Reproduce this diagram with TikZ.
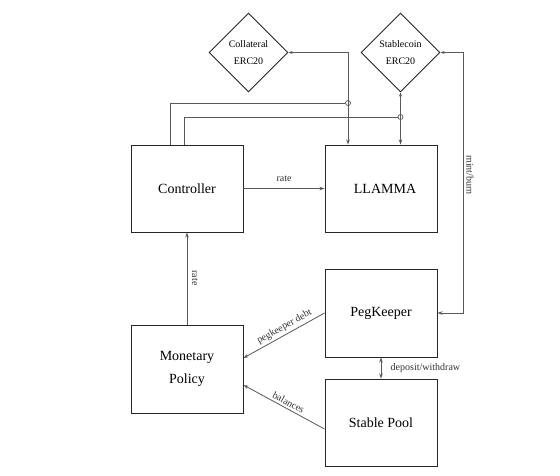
\documentclass[tikz,border=0pt]{standalone}
\usepackage{fontspec}
\setmainfont{Liberation Serif}
\usetikzlibrary{shapes.geometric,arrows.meta,calc}
\begin{document}
\begin{tikzpicture}[x=1pt,y=-1pt,
  box/.style={draw=black!85,line width=0.95pt,minimum width=112pt,minimum height=87pt,inner sep=0pt,font=\fontsize{14}{23}\selectfont,align=center},
  dia/.style={draw=black!85,line width=0.95pt,shape=diamond,minimum width=79pt,minimum height=79pt,inner sep=0pt,font=\fontsize{10}{17}\selectfont,align=center},
  conn/.style={draw=black!65,line width=0.8pt},
  tip/.style={-{Stealth[length=5pt,width=3.5pt]}},
  lbl/.style={font=\fontsize{10}{12}\selectfont,text=black!80},
  jn/.style={circle,draw=black!65,line width=0.7pt,inner sep=0pt,minimum size=5pt}
]
\useasboundingbox[fill=white] (0,0) rectangle (560,475);
% nodes
\node[box] (controller) at (187,188.5) {Controller};
\node[box] (llamma) at (381,188.5) {\hspace*{8pt}LLAMMA};
\node[box,minimum height=88pt] (monetary) at (187,369) {Monetary\\Policy};
\node[box,minimum height=88pt] (pegkeeper) at (381,313) {PegKeeper};
\node[box] (pool) at (381,422.5) {Stable Pool};
\node[dia] (coll) at (248.5,52.5) {Collateral\\ERC20};
\node[dia] (stable) at (400.5,52.5) {Stablecoin\\ERC20};
\node[jn] (j1) at (348,103) {};
\node[jn] (j2) at (400.5,117) {};
\coordinate (cj) at (348,52.5);
\coordinate (mb) at (463,52.5);
% connectors
\draw[conn,tip] (controller.east) -- node[lbl,above=3pt] {rate} (llamma.west);
\draw[conn,tip] (monetary.north) -- (controller.south);
\node[lbl,rotate=-90] (ratelbl) at (195,278) {rate};
\draw[conn,{Stealth[length=5pt,width=3.5pt]}-] ([yshift=11pt]monetary.east) -- node[lbl,sloped,above=-1pt,pos=0.55] {pegkeeper debt} (pegkeeper.west);
\draw[conn,{Stealth[length=5pt,width=3.5pt]}-] ([yshift=-16pt]monetary.east) -- node[lbl,sloped,above=-1pt,pos=0.52] {balances} ([yshift=-6.5pt]pool.west);
\draw[conn,{Stealth[length=5pt,width=3.5pt]}-{Stealth[length=5pt,width=3.5pt]}] (pegkeeper.south) -- node[lbl,right=6pt] {deposit/withdraw} (pool.north);
\draw[conn,{Stealth[length=4pt,width=3pt]}-{Stealth[length=5pt,width=3.5pt]}] (stable.east) -- (mb) |- (pegkeeper.east);
\node[lbl,rotate=-90] (mblbl) at (470,175) {mint/burn};
\draw[conn,{Stealth[length=4pt,width=3pt]}-{Stealth[length=5pt,width=3.5pt]}] (coll.east) -- (cj) -- (cj |- llamma.north);
\draw[conn,{Stealth[length=4pt,width=3pt]}-{Stealth[length=5pt,width=3.5pt]}] (stable.south) -- (stable.south |- llamma.north);
\draw[conn] ([xshift=-17pt]controller.north) |- (j1);
\draw[conn] ([xshift=-3pt]controller.north) |- (j2);
\end{tikzpicture}
\end{document}
